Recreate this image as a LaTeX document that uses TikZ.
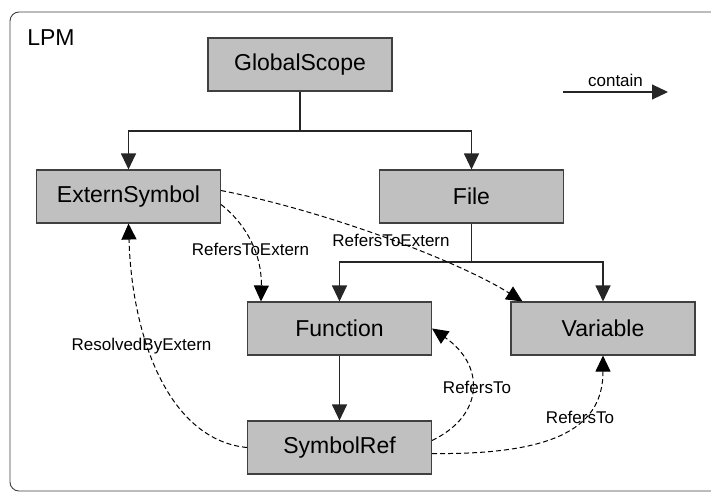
\documentclass[tikz,border=0pt]{standalone}
\usepackage{fontspec}
\setmainfont{Liberation Sans}
\usetikzlibrary{arrows.meta}

\definecolor{boxgray}{RGB}{192,192,192}
\definecolor{linegray}{RGB}{64,64,64}

\begin{document}
\begin{tikzpicture}[x=1pt, y=-1pt,
    box/.style={draw=linegray, fill=boxgray, line width=1.1pt, minimum width=184pt, minimum height=53pt, inner sep=0pt, font=\fontsize{23}{26}\selectfont},
    lbl/.style={inner sep=1pt, font=\fontsize{17}{20}\selectfont},
    contain/.style={line width=1.1pt, draw=black!85, -{Triangle[length=16pt,width=15pt]}},
    ref/.style={line width=1pt, dash pattern=on 5pt off 3pt, -{Triangle[length=16pt,width=15pt]}}]
        \useasboundingbox (0,0) rectangle (711,493);
        \draw[linegray, line width=0.9pt, rounded corners=9pt] (10,12) rectangle (740,491);
        \node[font=\fontsize{23}{26}\selectfont] (lpm) at (51,38) {LPM};

        \node[box] (gs)  at (300,64.5)   {GlobalScope};
        \node[box] (ext) at (128.5,196.5) {ExternSymbol};
        \node[box] (file) at (471.5,196.5) {File};
        \node[box] (fun) at (339.5,328.5) {Function};
        \node[box] (var) at (603,328.5)   {Variable};
        \node[box] (sym) at (339.5,447.5) {SymbolRef};

        % legend
        \coordinate (cfrom) at (563,92);
        \coordinate (cto)   at (668,92);
        \draw[contain] (cfrom) -- (cto) node[midway, above=4pt, lbl] (clbl) {contain};

        % containment
        \coordinate (gsjoin)   at (300,131);
        \coordinate (filejoin) at (471.5,262);
        \draw[line width=1.1pt, draw=black!85] (gs) -- (gsjoin);
        \draw[contain] (gsjoin) -| (ext);
        \draw[contain] (gsjoin) -| (file);
        \draw[line width=1.1pt, draw=black!85] (file) -- (filejoin);
        \draw[contain] (filejoin) -| (fun);
        \draw[contain] (filejoin) -| (var);
        \draw[contain] (fun) -- (sym);

        % references
        \draw[ref] ([yshift=-8pt]ext.east) .. controls (247,225) and (262,255) .. ([xshift=14pt]fun.north west);
        \draw[ref] ([yshift=6pt]ext.east) .. controls (330,212) and (460,262) .. ([xshift=12pt]var.north west);
        \draw[ref] (sym.west) .. controls (170,440) and (132,340) .. (ext.south);
        \draw[ref] ([yshift=7pt]sym.east) .. controls (485,415) and (485,365) .. (fun.east);
        \draw[ref] ([yshift=-6pt]sym.east) .. controls (560,455) and (603,425) .. (var.south);

        \node[lbl] (r1) at (250.5,249) {RefersToExtern};
        \node[lbl] (r2) at (391,240)   {RefersToExtern};
        \node[lbl] (r3) at (141.5,346) {ResolvedByExtern};
        \node[lbl] (r4) at (477,387)   {RefersTo};
        \node[lbl] (r5) at (580,417)   {RefersTo};
\end{tikzpicture}
\end{document}
